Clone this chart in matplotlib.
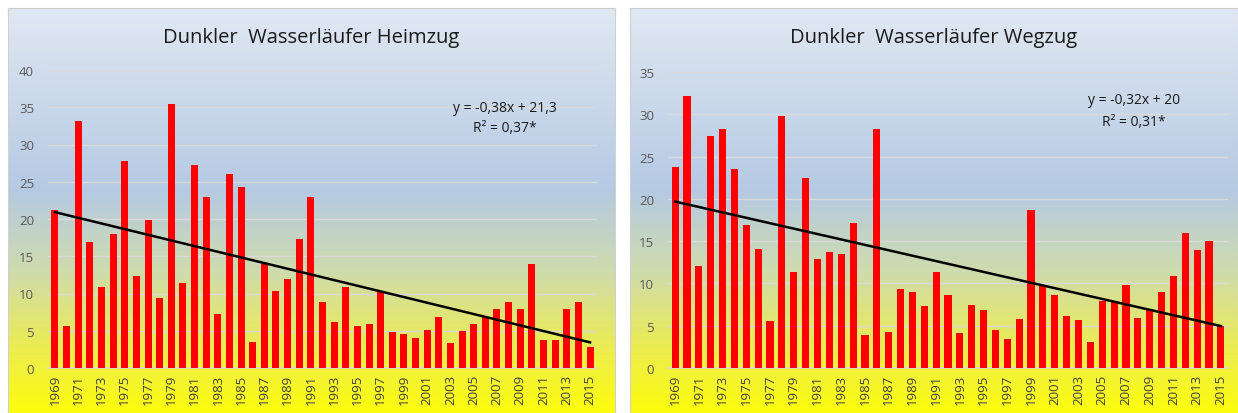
import numpy as np
import matplotlib
matplotlib.use("Agg")
import matplotlib.pyplot as plt
from matplotlib.colors import LinearSegmentedColormap

years = list(range(1969, 2016))

heimzug = [21.2, 5.6, 33.2, 16.9, 10.9, 18.0, 27.8, 12.4, 19.9, 9.4,
           35.4, 11.4, 27.3, 22.9, 7.2, 26.1, 24.3, 3.5, 14.0, 10.3,
           12.0, 17.3, 22.9, 8.9, 6.2, 10.9, 5.6, 5.9, 10.2, 4.8,
           4.5, 4.0, 5.1, 6.9, 3.3, 5.0, 5.9, 6.8, 7.9, 8.9,
           7.9, 14.0, 3.8, 3.8, 7.9, 8.9, 2.8]

wegzug = [23.8, 32.2, 12.1, 27.4, 28.3, 23.5, 16.9, 14.1, 5.6, 29.8,
          11.4, 22.5, 12.9, 13.7, 13.5, 17.1, 3.9, 28.3, 4.3, 9.3,
          9.0, 7.3, 11.4, 8.6, 4.1, 7.5, 6.9, 4.5, 3.4, 5.8,
          18.7, 9.7, 8.6, 6.1, 5.7, 3.1, 7.9, 7.8, 9.8, 5.9,
          7.0, 9.0, 10.9, 16.0, 13.9, 15.0, 5.0]

# Excel trendline parameters as printed on the chart (x = 1..n)
trend_heim = (-0.38, 21.3)
trend_weg = (-0.32, 20.0)

titles = ["Dunkler  Wasserläufer Heimzug", "Dunkler  Wasserläufer Wegzug"]
eq_texts = [("y = -0,38x + 21,3", "R² = 0,37*"), ("y = -0,32x + 20", "R² = 0,31*")]
y_max = [40, 35]

W, H = 1238, 414
fig = plt.figure(figsize=(W / 100, H / 100), dpi=100)
fig.patch.set_facecolor("white")

bg_cmap = LinearSegmentedColormap.from_list("bg", [
    (0.00, (0.88, 0.91, 0.95)),
    (0.45, (0.71, 0.79, 0.89)),
    (0.65, (0.81, 0.86, 0.68)),
    (0.85, (0.93, 0.93, 0.30)),
    (1.00, (0.99, 0.99, 0.05)),
])


def px_rect(x0, y0, x1, y1):
    return [x0 / W, 1 - y1 / H, (x1 - x0) / W, (y1 - y0) / H]


panels = [(8, 9, 615, 414), (630, 9, 1238, 414)]
plot_boxes = [(48, 71, 597, 369), (668, 73, 1228, 369)]
eq_pos = [(505, 108, 128), (1134, 101, 123)]
datasets = [heimzug, wegzug]
trends = [trend_heim, trend_weg]

for i in range(2):
    bg = fig.add_axes(px_rect(*panels[i]))
    bg.imshow(np.linspace(0, 1, 256).reshape(-1, 1), cmap=bg_cmap, aspect="auto",
              extent=[0, 1, 0, 1])
    bg.set_xticks([])
    bg.set_yticks([])
    for s in bg.spines.values():
        s.set_color("#d0d0d0")
        s.set_linewidth(0.8)

    px0, py0, px1, py1 = panels[i]
    fig.text(((px0 + px1) / 2) / W, 1 - 38 / H, titles[i], ha="center", va="center",
             fontsize=14.5, family="Open Sans", color="#1a1a1a")

    ax = fig.add_axes(px_rect(*plot_boxes[i]))
    ax.patch.set_alpha(0)
    data = datasets[i]
    x = np.arange(len(years))
    ax.bar(x, data, width=0.6, color="#ff0000", zorder=3)

    slope, icpt = trends[i]
    xs = np.array([1, len(years)])
    ax.plot(xs - 1, slope * xs + icpt, color="black", lw=1.8, zorder=4)

    ax.set_ylim(0, y_max[i])
    ax.set_xlim(-0.6, len(years) - 0.4)
    ax.set_yticks(range(0, y_max[i] + 1, 5))
    ax.grid(axis="y", color="#d9d9d9", lw=1.0, zorder=1)
    ax.set_xticks(x[::2])
    ax.set_xticklabels([str(y) for y in years[::2]], rotation=90, fontsize=9.5,
                       color="#404040", family="Open Sans")
    ax.tick_params(axis="y", labelsize=9.5, labelcolor="#595959", length=0, pad=10)
    ax.tick_params(axis="x", length=0, pad=4)
    for lab in ax.get_yticklabels():
        lab.set_family("Open Sans")
    for name in ["top", "right", "left"]:
        ax.spines[name].set_visible(False)
    ax.spines["bottom"].set_color("#d9d9d9")
    ax.spines["bottom"].set_linewidth(1.2)

    ex, ey1, ey2 = eq_pos[i]
    fig.text(ex / W, 1 - ey1 / H, eq_texts[i][0], ha="center", va="center",
             fontsize=10, family="Open Sans", color="#1a1a1a")
    fig.text(ex / W, 1 - ey2 / H, eq_texts[i][1], ha="center", va="center",
             fontsize=10, family="Open Sans", color="#1a1a1a")

fig.savefig("out.png", dpi=100)
